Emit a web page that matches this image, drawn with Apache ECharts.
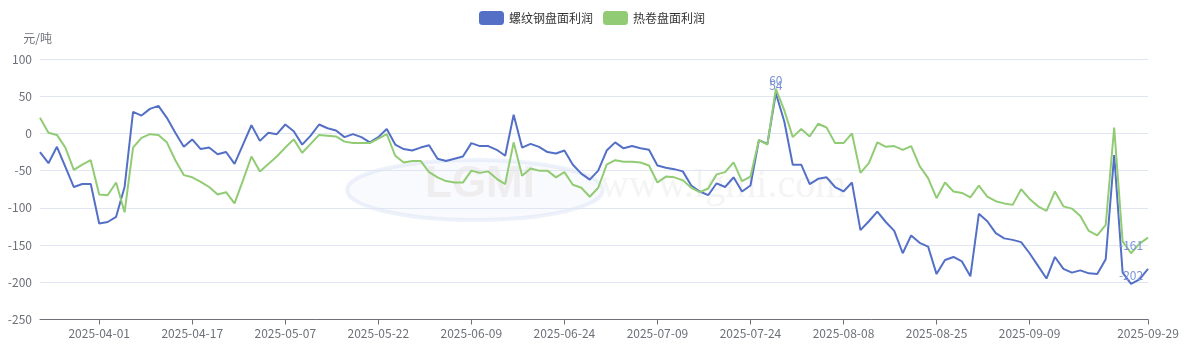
<!DOCTYPE html>
<html>
<head>
<meta charset="utf-8">
<script src="https://cdn.jsdelivr.net/npm/echarts@6/dist/echarts.min.js"></script>
<style>html,body{margin:0;padding:0;background:#fff}#c{width:1184px;height:348px}</style>
</head>
<body>
<div id="c"></div>
<script>
var categories = [
"2025-03-21","2025-03-24","2025-03-25","2025-03-26","2025-03-27","2025-03-28","2025-03-31",
"2025-04-01","2025-04-02","2025-04-03","2025-04-07","2025-04-08","2025-04-09","2025-04-10","2025-04-11","2025-04-14","2025-04-15","2025-04-16","2025-04-17","2025-04-18","2025-04-21","2025-04-22","2025-04-23","2025-04-24","2025-04-25","2025-04-28","2025-04-29","2025-04-30",
"2025-05-06","2025-05-07","2025-05-08","2025-05-09","2025-05-12","2025-05-13","2025-05-14","2025-05-15","2025-05-16","2025-05-19","2025-05-20","2025-05-21","2025-05-22","2025-05-23","2025-05-26","2025-05-27","2025-05-28","2025-05-29","2025-05-30",
"2025-06-03","2025-06-04","2025-06-05","2025-06-06","2025-06-09","2025-06-10","2025-06-11","2025-06-12","2025-06-13","2025-06-16","2025-06-17","2025-06-18","2025-06-19","2025-06-20","2025-06-23","2025-06-24","2025-06-25","2025-06-26","2025-06-27","2025-06-30",
"2025-07-01","2025-07-02","2025-07-03","2025-07-04","2025-07-07","2025-07-08","2025-07-09","2025-07-10","2025-07-11","2025-07-14","2025-07-15","2025-07-16","2025-07-17","2025-07-18","2025-07-21","2025-07-22","2025-07-23","2025-07-24","2025-07-25","2025-07-28","2025-07-29","2025-07-30","2025-07-31",
"2025-08-01","2025-08-04","2025-08-05","2025-08-06","2025-08-07","2025-08-08","2025-08-11","2025-08-12","2025-08-13","2025-08-14","2025-08-15","2025-08-18","2025-08-19","2025-08-20","2025-08-21","2025-08-22","2025-08-25","2025-08-26","2025-08-27","2025-08-28","2025-08-29",
"2025-09-01","2025-09-02","2025-09-03","2025-09-04","2025-09-05","2025-09-08","2025-09-09","2025-09-10","2025-09-11","2025-09-12","2025-09-15","2025-09-16","2025-09-17","2025-09-18","2025-09-19","2025-09-22","2025-09-23","2025-09-24","2025-09-25","2025-09-26","2025-09-29"
];
var labeledDates = ["2025-04-01","2025-04-17","2025-05-07","2025-05-22","2025-06-09","2025-06-24","2025-07-09","2025-07-24","2025-08-08","2025-08-25","2025-09-09","2025-09-29"];
var rebarProfit = [
-25,-40,-18,-45,-72,-68,-68,-121,-119,-112,-72,29,24,33,37,21,1,-18,-8,-21,-19,-28,-25,-41,-15,11,-10,1,-1,12,3,-15,-3,12,7,4,-5,-1,-5,-12,-5,6,-15,-21,-23,-19,-16,-34,-37,-34,-31,-13,-17,-17,-22,-30,25,-19,-14,-18,-25,-27,-23,-42,-54,-62,-50,-23,-12,-20,-17,-20,-22,-43,-46,-48,-51,-70,-78,-83,-67,-72,-59,-78,-70,-9,-14,54,16,-42,-42,-68,-61,-59,-72,-78,-66,-130,-118,-105,-119,-131,-161,-137,-147,-152,-189,-170,-166,-172,-192,-108,-118,-134,-141,-143,-146,-161,-178,-195,-166,-182,-187,-184,-188,-189,-169,-29,-187,-202,-196,-182
];
var hrcProfit = [
21,1,-2,-19,-49,-42,-36,-82,-83,-66,-106,-19,-6,-1,-2,-12,-36,-56,-59,-65,-72,-82,-79,-94,-63,-31,-51,-41,-31,-19,-8,-26,-14,-2,-3,-4,-11,-13,-13,-13,-7,-1,-30,-39,-37,-37,-52,-59,-64,-66,-66,-50,-53,-51,-61,-68,-12,-57,-47,-50,-50,-59,-52,-69,-73,-85,-73,-42,-36,-38,-38,-39,-43,-66,-58,-59,-63,-73,-79,-74,-55,-52,-39,-64,-58,-9,-15,60,31,-5,6,-4,13,8,-13,-13,0,-53,-40,-12,-18,-17,-22,-17,-44,-60,-87,-66,-78,-80,-86,-70,-85,-91,-94,-96,-75,-88,-98,-104,-78,-98,-101,-111,-131,-137,-123,8,-145,-161,-148,-140
];
var seriesNames = ["螺纹钢盘面利润","热卷盘面利润"];
var yTicks = {min:-250, max:100, interval:50};

var chart = echarts.init(document.getElementById('c'));
function showLabel(i){ return labeledDates.indexOf(categories[i]) >= 0; }
var mpLabel = {show:true, position:'top', distance:1, color:'#7b93d8', fontSize:12,
  fontFamily:'Microsoft YaHei, Noto Sans CJK SC, sans-serif'};
function markPts(){
  return {symbol:'circle', symbolSize:2, itemStyle:{color:'rgba(0,0,0,0)'}, label:mpLabel,
    data:[{type:'max'},{type:'min'}]};
}
chart.setOption({
  animation:false,
  color:['#5470c6','#91cc75'],
  textStyle:{fontFamily:'Microsoft YaHei, Noto Sans CJK SC, sans-serif'},
  legend:{top:6, left:'center', icon:'roundRect', itemWidth:25, itemHeight:14, itemGap:10,
    textStyle:{color:'#333', fontSize:12}, data:seriesNames},
  grid:{left:40, right:36, top:59, bottom:28.5, containLabel:false},
  graphic:[
    {type:'ellipse', left:345, top:158, shape:{cx:128,cy:30,rx:128,ry:30}, z:-10, silent:true,
      style:{fill:'rgba(215,225,242,0.18)', stroke:'rgba(200,212,238,0.3)', lineWidth:4}},
    {type:'text', left:425, top:163, z:-9, silent:true,
      style:{text:'LGMI', fill:'rgba(225,215,215,0.35)', font:'bold 44px Liberation Sans, sans-serif'}},
    {type:'text', left:600, top:166, z:-9, silent:true,
      style:{text:'www.lgmi.com', fill:'rgba(230,230,230,0.45)', font:'40px Liberation Serif, serif'}}
  ],
  xAxis:{type:'category', data:categories, boundaryGap:false,
    axisLine:{onZero:false, lineStyle:{color:'#6e7079'}},
    axisTick:{interval:function(i){return showLabel(i);}, lineStyle:{color:'#6e7079'}},
    axisLabel:{interval:function(i){return showLabel(i);}, color:'#6e7079', fontSize:12, margin:8}},
  yAxis:{type:'value', name:'元/吨', nameLocation:'end', nameGap:15,
    nameTextStyle:{color:'#6e7079', fontSize:12, align:'right', padding:[0,-12,0,0]},
    min:yTicks.min, max:yTicks.max, interval:yTicks.interval,
    axisLabel:{color:'#6e7079', fontSize:12},
    splitLine:{lineStyle:{color:'#e0e6f1'}}},
  series:[
    {name:seriesNames[0], type:'line', data:rebarProfit, showSymbol:false, lineStyle:{width:2}, markPoint:markPts()},
    {name:seriesNames[1], type:'line', data:hrcProfit, showSymbol:false, lineStyle:{width:2}, markPoint:markPts()}
  ]
});
</script>
</body>
</html>
